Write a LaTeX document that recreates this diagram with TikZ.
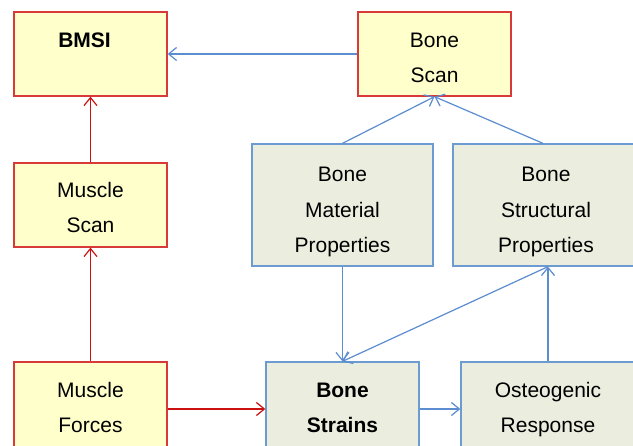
\documentclass[tikz,border=0pt]{standalone}
\usepackage{fontspec}
\setmainfont{Liberation Sans}
\usetikzlibrary{arrows.meta}
\definecolor{ybox}{HTML}{FFFFCC}
\definecolor{gbox}{HTML}{EBEEDF}
\definecolor{rline}{HTML}{D83A3A}
\definecolor{rarrow}{HTML}{CC1111}
\definecolor{bline}{HTML}{6C9BD2}
\definecolor{barrow}{HTML}{5B8DD0}
% #1 = how far the text block sits below the box centre
\newcommand{\btxt}[2][4pt]{\smash{\raisebox{\dimexpr-5.25pt-#1\relax}{\begin{tabular}{@{}c@{}}#2\end{tabular}}}}
\begin{document}
\begin{tikzpicture}[x=1pt,y=-1pt,
  base/.style={rectangle, inner sep=0pt, line width=1.3pt,
    font=\fontsize{21}{35.5}\selectfont},
  ybx/.style={base, draw=rline, fill=ybox, minimum width=153pt},
  gbx/.style={base, draw=bline, fill=gbox},
  rar/.style={draw=rarrow, line width=1.2pt, -{Straight Barb[length=8pt,width=13pt]}},
  bar/.style={draw=barrow, line width=1.2pt, -{Straight Barb[length=8pt,width=13pt]}}]
\clip (0,0) rectangle (633,446);
\fill[white] (0,0) rectangle (633,446);
\node[ybx, minimum height=84pt] (bmsi) at (90.5,54) {\btxt[4pt]{\textbf{BMSI}\kern12pt\\\mbox{}}};
\node[ybx, minimum height=84pt] (bscan) at (434.5,54) {\btxt[4pt]{Bone\\Scan}};
\node[ybx, minimum height=84pt] (mscan) at (90.5,205) {\btxt[3pt]{Muscle\\Scan}};
\node[ybx, minimum height=90pt] (mforce) at (90.5,407) {\btxt[1pt]{Muscle\\Forces}};
\node[gbx, minimum width=181pt, minimum height=122pt] (mat) at (342.5,205) {\btxt[5pt]{Bone\\Material\\Properties}};
\node[gbx, minimum width=186pt, minimum height=122pt] (str) at (546,205) {\btxt[5pt]{Bone\\Structural\\Properties}};
\node[gbx, minimum width=153pt, minimum height=90pt] (strain) at (342.5,407) {\btxt[1pt]{\textbf{Bone}\\\textbf{Strains}}};
\node[gbx, minimum width=174pt, minimum height=90pt] (osteo) at (548,407) {\btxt[1pt]{Osteogenic\\Response}};
\draw[bar] (bscan.west) -- (bmsi.east);
\draw[rar] (mscan.north) -- (bmsi.south);
\draw[rar] (mforce.north) -- (mscan.south);
\draw[rar] ([yshift=-2pt]mforce.east) -- ([yshift=-2pt]strain.west);
\draw[bar] ([yshift=-2pt]strain.east) -- ([yshift=-2pt]osteo.west);
\draw[bar] (osteo.north) -- (osteo.north |- str.south);
\draw[bar] (osteo.north |- str.south) -- (strain.north);
\draw[bar] (mat.south) -- (strain.north);
\draw[bar] (mat.north) -- (bscan.south);
\draw[bar] ([xshift=-3pt]str.north) -- (bscan.south);
\end{tikzpicture}
\end{document}
